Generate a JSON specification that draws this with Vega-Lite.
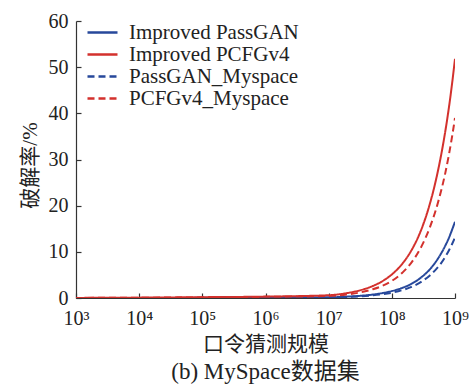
{
  "$schema": "https://vega.github.io/schema/vega-lite/v6.json",
  "width": 379,
  "height": 277,
  "autosize": {"type": "none"},
  "padding": {"left": 76, "top": 21, "right": 16, "bottom": 87},
  "background": "white",
  "config": {
    "view": {"stroke": null},
    "font": "Liberation Serif",
    "axis": {"grid": false, "domainColor": "#333", "tickColor": "#333", "labelColor": "#222", "titleColor": "#222", "labelFont": "Liberation Serif", "labelFontSize": 20, "titleFontWeight": "normal", "domainWidth": 1.2, "tickWidth": 1.2}
  },
  "title": {"text": "(b) MySpace数据集", "orient": "bottom", "font": "Liberation Serif, Noto Sans CJK SC", "fontSize": 23, "fontWeight": "normal", "color": "#222", "offset": 7, "anchor": "middle"},
  "data": {"values": [
    {"series": "Improved PassGAN", "x": 1000, "y": 0},
    {"series": "Improved PassGAN", "x": 10000, "y": 0.01},
    {"series": "Improved PassGAN", "x": 100000, "y": 0.03},
    {"series": "Improved PassGAN", "x": 1000000, "y": 0.06},
    {"series": "Improved PassGAN", "x": 10000000, "y": 0.15},
    {"series": "Improved PassGAN", "x": 20000000, "y": 0.3},
    {"series": "Improved PassGAN", "x": 30000000, "y": 0.45},
    {"series": "Improved PassGAN", "x": 50000000, "y": 0.75},
    {"series": "Improved PassGAN", "x": 70000000, "y": 1.05},
    {"series": "Improved PassGAN", "x": 100000000, "y": 1.5},
    {"series": "Improved PassGAN", "x": 150000000, "y": 2.25},
    {"series": "Improved PassGAN", "x": 200000000, "y": 3.0},
    {"series": "Improved PassGAN", "x": 300000000, "y": 4.6},
    {"series": "Improved PassGAN", "x": 400000000, "y": 6.2},
    {"series": "Improved PassGAN", "x": 500000000, "y": 7.9},
    {"series": "Improved PassGAN", "x": 600000000, "y": 9.6},
    {"series": "Improved PassGAN", "x": 700000000, "y": 11.3},
    {"series": "Improved PassGAN", "x": 800000000, "y": 13.0},
    {"series": "Improved PassGAN", "x": 900000000, "y": 14.8},
    {"series": "Improved PassGAN", "x": 1000000000, "y": 16.5},
    {"series": "Improved PCFGv4", "x": 1000, "y": 0.02},
    {"series": "Improved PCFGv4", "x": 10000, "y": 0.08},
    {"series": "Improved PCFGv4", "x": 100000, "y": 0.18},
    {"series": "Improved PCFGv4", "x": 1000000, "y": 0.3},
    {"series": "Improved PCFGv4", "x": 10000000, "y": 0.6},
    {"series": "Improved PCFGv4", "x": 20000000, "y": 1.1},
    {"series": "Improved PCFGv4", "x": 30000000, "y": 1.6},
    {"series": "Improved PCFGv4", "x": 50000000, "y": 2.6},
    {"series": "Improved PCFGv4", "x": 70000000, "y": 3.6},
    {"series": "Improved PCFGv4", "x": 100000000, "y": 5.1},
    {"series": "Improved PCFGv4", "x": 150000000, "y": 7.6},
    {"series": "Improved PCFGv4", "x": 200000000, "y": 10.1},
    {"series": "Improved PCFGv4", "x": 300000000, "y": 15.2},
    {"series": "Improved PCFGv4", "x": 400000000, "y": 20.4},
    {"series": "Improved PCFGv4", "x": 500000000, "y": 25.6},
    {"series": "Improved PCFGv4", "x": 600000000, "y": 30.8},
    {"series": "Improved PCFGv4", "x": 700000000, "y": 36.0},
    {"series": "Improved PCFGv4", "x": 800000000, "y": 41.2},
    {"series": "Improved PCFGv4", "x": 900000000, "y": 46.5},
    {"series": "Improved PCFGv4", "x": 1000000000, "y": 51.8},
    {"series": "PassGAN_Myspace", "x": 1000, "y": 0},
    {"series": "PassGAN_Myspace", "x": 10000, "y": 0.01},
    {"series": "PassGAN_Myspace", "x": 100000, "y": 0.02},
    {"series": "PassGAN_Myspace", "x": 1000000, "y": 0.05},
    {"series": "PassGAN_Myspace", "x": 10000000, "y": 0.1},
    {"series": "PassGAN_Myspace", "x": 20000000, "y": 0.22},
    {"series": "PassGAN_Myspace", "x": 30000000, "y": 0.34},
    {"series": "PassGAN_Myspace", "x": 50000000, "y": 0.57},
    {"series": "PassGAN_Myspace", "x": 70000000, "y": 0.8},
    {"series": "PassGAN_Myspace", "x": 100000000, "y": 1.15},
    {"series": "PassGAN_Myspace", "x": 150000000, "y": 1.75},
    {"series": "PassGAN_Myspace", "x": 200000000, "y": 2.35},
    {"series": "PassGAN_Myspace", "x": 300000000, "y": 3.6},
    {"series": "PassGAN_Myspace", "x": 400000000, "y": 4.9},
    {"series": "PassGAN_Myspace", "x": 500000000, "y": 6.2},
    {"series": "PassGAN_Myspace", "x": 600000000, "y": 7.5},
    {"series": "PassGAN_Myspace", "x": 700000000, "y": 8.9},
    {"series": "PassGAN_Myspace", "x": 800000000, "y": 10.3},
    {"series": "PassGAN_Myspace", "x": 900000000, "y": 11.7},
    {"series": "PassGAN_Myspace", "x": 1000000000, "y": 13.1},
    {"series": "PCFGv4_Myspace", "x": 1000, "y": 0.02},
    {"series": "PCFGv4_Myspace", "x": 10000, "y": 0.06},
    {"series": "PCFGv4_Myspace", "x": 100000, "y": 0.14},
    {"series": "PCFGv4_Myspace", "x": 1000000, "y": 0.25},
    {"series": "PCFGv4_Myspace", "x": 10000000, "y": 0.45},
    {"series": "PCFGv4_Myspace", "x": 20000000, "y": 0.8},
    {"series": "PCFGv4_Myspace", "x": 30000000, "y": 1.15},
    {"series": "PCFGv4_Myspace", "x": 50000000, "y": 1.9},
    {"series": "PCFGv4_Myspace", "x": 70000000, "y": 2.6},
    {"series": "PCFGv4_Myspace", "x": 100000000, "y": 3.7},
    {"series": "PCFGv4_Myspace", "x": 150000000, "y": 5.6},
    {"series": "PCFGv4_Myspace", "x": 200000000, "y": 7.5},
    {"series": "PCFGv4_Myspace", "x": 300000000, "y": 11.4},
    {"series": "PCFGv4_Myspace", "x": 400000000, "y": 15.3},
    {"series": "PCFGv4_Myspace", "x": 500000000, "y": 19.2},
    {"series": "PCFGv4_Myspace", "x": 600000000, "y": 23.1},
    {"series": "PCFGv4_Myspace", "x": 700000000, "y": 27.0},
    {"series": "PCFGv4_Myspace", "x": 800000000, "y": 31.0},
    {"series": "PCFGv4_Myspace", "x": 900000000, "y": 35.0},
    {"series": "PCFGv4_Myspace", "x": 1000000000, "y": 39.0}
  ]},
  "mark": {"type": "line", "strokeWidth": 2, "clip": true, "interpolate": "monotone"},
  "encoding": {
    "x": {
      "field": "x", "type": "quantitative",
      "scale": {"type": "log", "domain": [1000, 1000000000], "nice": false},
      "axis": {
        "values": [1000, 10000, 100000, 1000000, 10000000, 100000000, 1000000000],
        "labelExpr": "'10' + ['⁰','¹','²','³','⁴','⁵','⁶','⁷','⁸','⁹'][round(log(datum.value)/LN10)]",
        "tickSize": -5, "labelPadding": 15, "labelFlush": false,
        "title": "口令猜测规模", "titleFont": "Liberation Serif, Noto Sans CJK SC", "titleFontSize": 21, "titlePadding": 5
      }
    },
    "y": {
      "field": "y", "type": "quantitative",
      "scale": {"domain": [0, 60], "nice": false},
      "axis": {
        "values": [0, 10, 20, 30, 40, 50, 60],
        "tickSize": -5, "labelPadding": 13,
        "title": "破解率/%", "titleFont": "Liberation Serif, Noto Sans CJK SC", "titleFontSize": 21, "titlePadding": 8, "titleY": 144
      }
    },
    "color": {
      "field": "series", "type": "nominal",
      "scale": {"domain": ["Improved PassGAN", "Improved PCFGv4", "PassGAN_Myspace", "PCFGv4_Myspace"], "range": ["#27489b", "#d3312d", "#27489b", "#d3312d"]},
      "legend": {
        "title": null, "orient": "none", "legendX": 16, "legendY": 1,
        "symbolType": "M-3,0H3", "symbolSize": 100, "symbolStrokeWidth": 2.5, "symbolFillColor": "transparent",
        "labelFont": "Liberation Serif", "labelFontSize": 21, "labelColor": "#222", "labelLimit": 400,
        "labelOffset": 16, "rowPadding": 0, "padding": 0
      }
    },
    "strokeDash": {
      "field": "series", "type": "nominal",
      "scale": {"domain": ["Improved PassGAN", "Improved PCFGv4", "PassGAN_Myspace", "PCFGv4_Myspace"], "range": [[1, 0], [1, 0], [7, 4], [7, 4]]}
    }
  }
}
